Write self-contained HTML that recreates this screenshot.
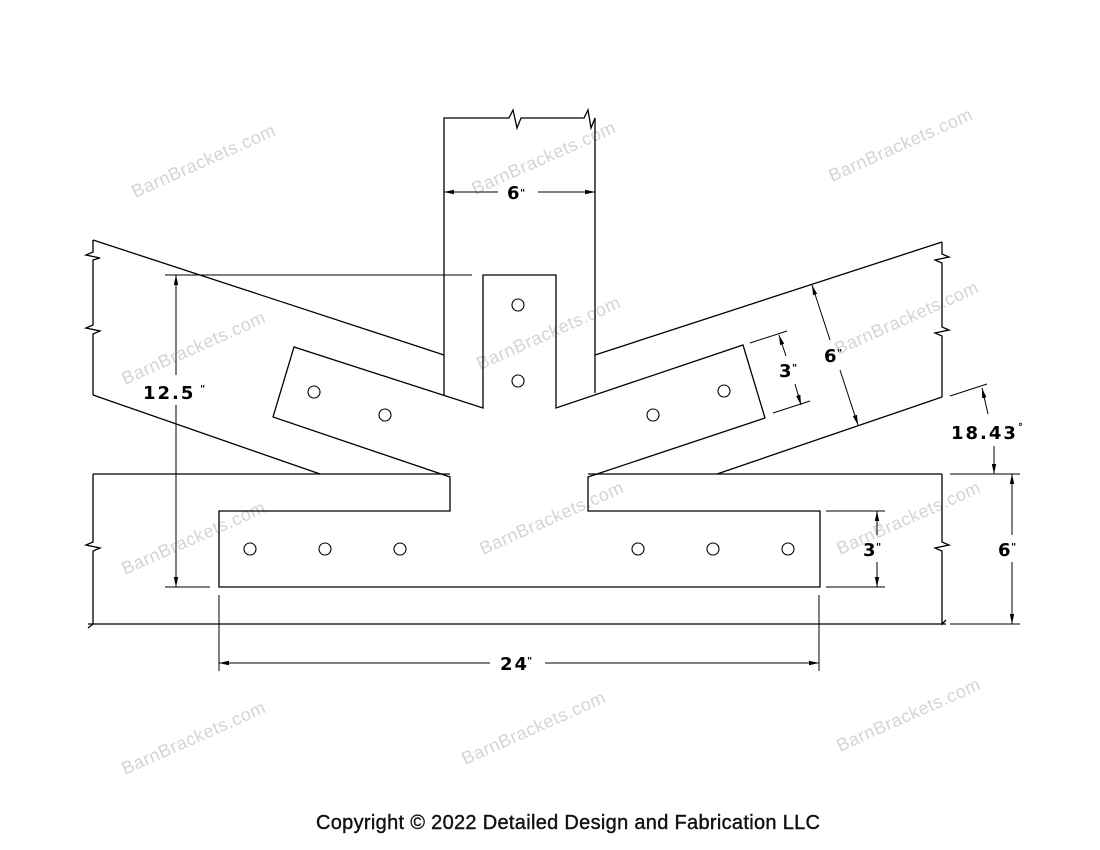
<!DOCTYPE html>
<html><head><style>
html,body{margin:0;padding:0;background:#fff;}
svg{display:block;}
.wm{font-family:"Liberation Sans",sans-serif;font-size:18px;fill:#d4d4d4;}
.d{font-family:"DejaVu Sans","Liberation Sans",sans-serif;font-size:18px;font-weight:bold;fill:#000;letter-spacing:2px;}
</style></head><body>
<svg width="1100" height="850" viewBox="0 0 1100 850" xmlns="http://www.w3.org/2000/svg">
<defs>
<marker id="a" viewBox="0 0 10 6" refX="10" refY="3" markerWidth="10" markerHeight="6" orient="auto-start-reverse" markerUnits="userSpaceOnUse"><path d="M0,0.8 L10,3 L0,5.2z" fill="#000"/></marker>
</defs>
<g class="wm">
<text transform="translate(135,198) rotate(-24)" textLength="155">BarnBrackets.com</text>
<text transform="translate(475,195) rotate(-24)" textLength="155">BarnBrackets.com</text>
<text transform="translate(832,182) rotate(-24)" textLength="155">BarnBrackets.com</text>
<text transform="translate(125,385) rotate(-24)" textLength="155">BarnBrackets.com</text>
<text transform="translate(480,370) rotate(-24)" textLength="155">BarnBrackets.com</text>
<text transform="translate(838,355) rotate(-24)" textLength="155">BarnBrackets.com</text>
<text transform="translate(125,575) rotate(-24)" textLength="155">BarnBrackets.com</text>
<text transform="translate(483,555) rotate(-24)" textLength="155">BarnBrackets.com</text>
<text transform="translate(840,555) rotate(-24)" textLength="155">BarnBrackets.com</text>
<text transform="translate(125,775) rotate(-24)" textLength="155">BarnBrackets.com</text>
<text transform="translate(465,765) rotate(-24)" textLength="155">BarnBrackets.com</text>
<text transform="translate(840,752) rotate(-24)" textLength="155">BarnBrackets.com</text>
</g>
<g stroke="#000" stroke-width="1.3" fill="none">
<polyline points="444,395 444,118 509,118 513,110 517,128 521,118 584,118 588,110 591,128 595,118 595,393"/>
<line x1="93" y1="240" x2="444" y2="355"/>
<line x1="93" y1="395" x2="320" y2="474"/>
<polyline points="93,240 93,252 86,255 100,258 93,260 93,325 86,328 100,331 93,334 93,395"/>
<line x1="595" y1="355" x2="942" y2="242"/>
<line x1="717" y1="474" x2="942" y2="397"/>
<polyline points="942,242 942,254 949,257 935,260 942,263 942,327 949,330 935,333 942,336 942,397"/>
<line x1="93" y1="474" x2="450" y2="474"/>
<line x1="588" y1="474" x2="942" y2="474"/>
<line x1="88" y1="624" x2="946" y2="624"/>
<polyline points="93,474 93,542 86,545 100,548 93,551 93,624 88,628"/>
<polyline points="942,474 942,542 949,545 935,548 942,551 942,624 946,620"/>
<polygon points="483,275 556,275 556,408 743,345 765,418 588,477 588,511 820,511 820,587 219,587 219,511 450,511 450,477 273,417 294,347 483,408"/>
</g>
<g stroke="#000" stroke-width="1.1" fill="none">
<circle cx="518" cy="305" r="6"/><circle cx="518" cy="381" r="6"/>
<circle cx="314" cy="392" r="6"/><circle cx="385" cy="415" r="6"/>
<circle cx="653" cy="415" r="6"/><circle cx="724" cy="391" r="6"/>
<circle cx="250" cy="549" r="6"/><circle cx="325" cy="549" r="6"/><circle cx="400" cy="549" r="6"/>
<circle cx="638" cy="549" r="6"/><circle cx="713" cy="549" r="6"/><circle cx="788" cy="549" r="6"/>
</g>
<g stroke="#000" stroke-width="1" fill="none">
<line x1="444" y1="192" x2="498" y2="192" marker-start="url(#a)"/>
<line x1="538" y1="192" x2="595" y2="192" marker-end="url(#a)"/>
<line x1="165" y1="275" x2="472" y2="275"/>
<line x1="165" y1="587" x2="210" y2="587"/>
<line x1="176" y1="275" x2="176" y2="375" marker-start="url(#a)"/>
<line x1="176" y1="405" x2="176" y2="587" marker-end="url(#a)"/>
<line x1="826" y1="511" x2="885" y2="511"/>
<line x1="826" y1="587" x2="885" y2="587"/>
<line x1="877" y1="511" x2="877" y2="535" marker-start="url(#a)"/>
<line x1="877" y1="562" x2="877" y2="587" marker-end="url(#a)"/>
<line x1="950" y1="474" x2="1020" y2="474"/>
<line x1="950" y1="624" x2="1020" y2="624"/>
<line x1="1012" y1="474" x2="1012" y2="535" marker-start="url(#a)"/>
<line x1="1012" y1="562" x2="1012" y2="624" marker-end="url(#a)"/>
<line x1="219" y1="595" x2="219" y2="671"/>
<line x1="819" y1="595" x2="819" y2="671"/>
<line x1="219" y1="663" x2="490" y2="663" marker-start="url(#a)"/>
<line x1="545" y1="663" x2="819" y2="663" marker-end="url(#a)"/>
<line x1="750" y1="343" x2="787" y2="331"/>
<line x1="773" y1="413" x2="810" y2="401"/>
<line x1="779" y1="335" x2="786" y2="356" marker-start="url(#a)"/>
<line x1="795" y1="384" x2="801" y2="405" marker-end="url(#a)"/>
<line x1="812" y1="285" x2="830" y2="340" marker-start="url(#a)"/>
<line x1="840" y1="370" x2="858" y2="425" marker-end="url(#a)"/>
<line x1="950" y1="396" x2="987" y2="384"/>
<line x1="982" y1="388" x2="988" y2="414" marker-start="url(#a)"/>
<line x1="994" y1="446" x2="994" y2="474" marker-end="url(#a)"/>
</g>
<g class="d">
<text x="507" y="199">6</text><text x="520" y="196" style="font-size:10px">"</text>
<text x="143" y="399">12.5</text><text x="200" y="392" style="font-size:10px">"</text>
<text x="863" y="556">3</text><text x="876" y="550" style="font-size:10px">"</text>
<text x="998" y="556">6</text><text x="1011" y="550" style="font-size:10px">"</text>
<text x="500" y="670">24</text><text x="527" y="664" style="font-size:10px">"</text>
<text x="779" y="377">3</text><text x="792" y="371" style="font-size:10px">"</text>
<text x="824" y="362">6</text><text x="837" y="356" style="font-size:10px">"</text>
<text x="951" y="439">18.43</text><text x="1018" y="430" style="font-size:10px">°</text>
</g>
<text x="316" y="829" textLength="504" style="font-family:'Liberation Sans',sans-serif;font-size:20px;fill:#111;stroke:#111;stroke-width:0.4;">Copyright © 2022 Detailed Design and Fabrication LLC</text>
</svg>
</body></html>
